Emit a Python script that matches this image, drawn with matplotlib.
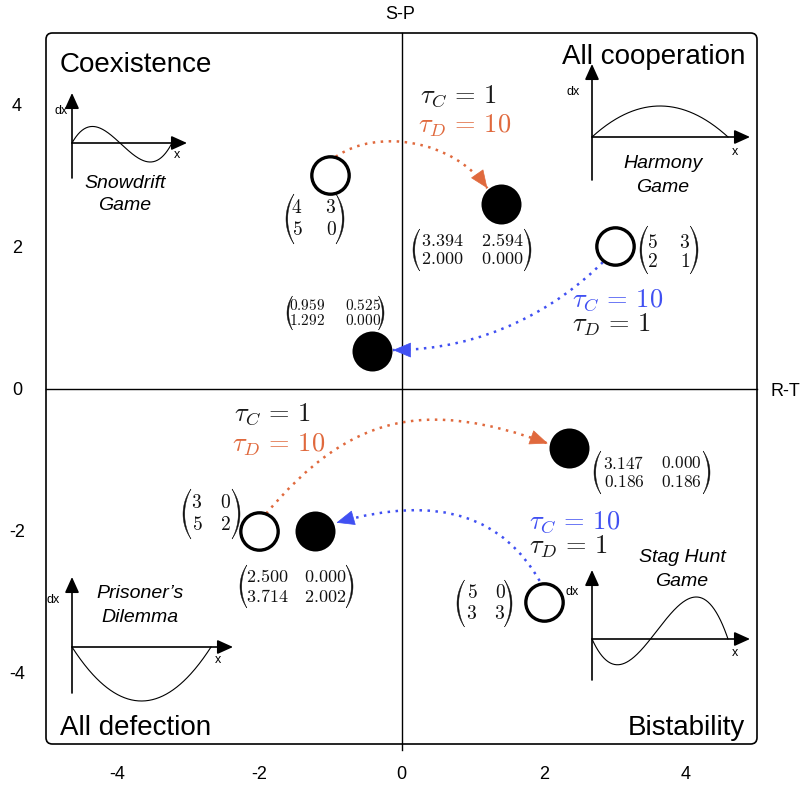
import numpy as np
import matplotlib
matplotlib.use("Agg")
import matplotlib.pyplot as plt
from matplotlib.patches import FancyArrowPatch, FancyBboxPatch, Polygon, PathPatch
from matplotlib.path import Path

plt.rcParams["font.family"] = ["Liberation Sans", "DejaVu Sans"]
plt.rcParams["mathtext.fontset"] = "cm"

# Original games, placed at (R-T, S-P)
orig_rt = [-1.0, 3.0, -2.0, 2.0]
orig_sp = [3.0, 2.0, -2.0, -3.0]
orig_payoff = [["4", "3", "5", "0"], ["5", "3", "2", "1"],
               ["3", "0", "5", "2"], ["5", "0", "3", "3"]]

# Effective games after the time-scale change
eff_rt = [1.394, -0.42, 2.35, -1.214]
eff_sp = [2.594, 0.525, -0.84, -2.002]
eff_payoff = [["3.394", "2.594", "2.000", "0.000"],
              ["0.959", "0.525", "1.292", "0.000"],
              ["3.147", "0.000", "0.186", "0.186"],
              ["2.500", "0.000", "3.714", "2.002"]]

tau_c = [1, 10, 1, 10]
tau_d = [10, 1, 10, 1]

tick_vals = [-4, -2, 0, 2, 4]
quadrant_names = ["Coexistence", "All cooperation", "All defection", "Bistability"]
game_names = [("Snowdrift", "Game"), ("Harmony", "Game"),
              ("Prisoner\u2019s", "Dilemma"), ("Stag Hunt", "Game")]

ORANGE = "#E0693D"
BLUE = "#4050F2"

W, H = 809, 788
fig = plt.figure(figsize=(W / 100, H / 100), dpi=100)
ax = fig.add_axes([46 / W, 44 / H, 711 / W, 711 / H])
ax.set_xlim(-5, 5)
ax.set_ylim(-5, 5)
for s in ax.spines.values():
    s.set_visible(False)
ax.set_xticks(tick_vals)
ax.set_yticks(tick_vals)
ax.set_xticklabels([str(v) for v in tick_vals])
ax.set_yticklabels([str(v) for v in tick_vals], ha="center")
ax.tick_params(length=0, labelsize=13)
ax.tick_params(axis="x", pad=16)
ax.tick_params(axis="y", pad=21)

# frame and the two payoff axes
ax.add_patch(FancyBboxPatch((-5, -5), 10, 10, boxstyle="round,pad=0,rounding_size=0.09",
                            fc="none", ec="black", lw=1.2, clip_on=False, zorder=1))
ax.plot([0, 0], [-5.08, 5], color="black", lw=1.0, clip_on=False, zorder=1)
ax.plot([-5, 5], [0, 0], color="black", lw=1.0, clip_on=False, zorder=1)

ax.plot(orig_rt, orig_sp, "o", ls="none", ms=26.9, mfc="white", mec="black", mew=2.4, zorder=4)
ax.plot(eff_rt, eff_sp, "o", ls="none", ms=28.8, mfc="black", mec="black", mew=0, zorder=4)


def unit(deg):
    a = np.deg2rad(deg)
    return np.array([np.cos(a), np.sin(a)])


# curved dotted arrows: start/end angle on each circle, tangent directions, handle lengths
arrow_geom = [
    (74, 0.27, 35, 0.70, 130, 0.29, -55, 0.84),
    (233, 0.28, 225, 0.90, 3, 0.30, 180, 1.30),
    (68, 0.26, 50, 1.83, 167, 0.30, -20, 1.83),
    (101, 0.30, 120, 1.00, 21, 0.32, 196, 1.55),
]
for i, (pa, ra, da, ha, pb, rb, db, hb) in enumerate(arrow_geom):
    p = np.array([orig_rt[i], orig_sp[i]])
    q = np.array([eff_rt[i], eff_sp[i]])
    P0 = p + ra * unit(pa)
    P3 = q + rb * unit(pb)
    P1 = P0 + ha * unit(da)
    P2 = P3 - hb * unit(db)
    col = ORANGE if tau_d[i] > tau_c[i] else BLUE
    path = Path([P0, P1, P2, P3], [Path.MOVETO, Path.CURVE4, Path.CURVE4, Path.CURVE4])
    ax.add_patch(PathPatch(path, fc="none", ec=col, lw=1.8,
                           linestyle=(0, (1, 2.2)), zorder=3))
    # solid head at the end of the curve
    ax.add_patch(FancyArrowPatch(P3 - 0.05 * unit(db), P3,
                                 arrowstyle="-|>,head_length=1.2,head_width=0.5",
                                 mutation_scale=10, fc=col, ec=col, lw=0.5,
                                 shrinkA=0, shrinkB=0, zorder=3))

# overlay in figure pixel units for annotations
deco = fig.add_axes([0, 0, 1, 1], zorder=5)
deco.set_xlim(0, W)
deco.set_ylim(H, 0)
deco.axis("off")
deco.set_facecolor("none")

deco.text(400, 14, "S-P", ha="center", va="center", fontsize=13)
deco.text(785, 391, "R-T", ha="center", va="center", fontsize=13)

deco.text(60, 72, quadrant_names[0], ha="left", va="baseline", fontsize=20)
deco.text(745, 64, quadrant_names[1], ha="right", va="baseline", fontsize=20)
deco.text(60, 735, quadrant_names[2], ha="left", va="baseline", fontsize=20)
deco.text(745, 735, quadrant_names[3], ha="right", va="baseline", fontsize=20)

# tau labels
tau_pos = [((420, 103), (418, 133)), ((572, 307), (572, 332)),
           ((234, 421), (232, 452)), ((529, 529), (529, 554))]
for i, ((xc, yc), (xd, yd)) in enumerate(tau_pos):
    cc = BLUE if tau_c[i] == 10 else "#1a1a1a"
    cd = ORANGE if tau_d[i] == 10 else "#1a1a1a"
    deco.text(xc, yc, r"$\tau_C\,=\,%d$" % tau_c[i], color=cc, fontsize=19, ha="left", va="baseline")
    deco.text(xd, yd, r"$\tau_D\,=\,%d$" % tau_d[i], color=cd, fontsize=19, ha="left", va="baseline")


def paren(x, y0, y1, side, thick=1.7):
    # side = -1 for "(", +1 for ")"; x is the outermost point
    h = (y1 - y0) / 2.0
    yc = (y0 + y1) / 2.0
    w = 0.16 * (y1 - y0)
    yy = np.linspace(y0, y1, 60)

    def arc(sag):
        R = (h ** 2 + sag ** 2) / (2 * sag)
        return R - np.sqrt(R ** 2 - (yy - yc) ** 2)

    off_o = arc(w)
    off_i = arc(w - thick) + thick
    xo = x - side * off_o
    xi = x - side * off_i
    pts = np.vstack([np.column_stack([xo, yy]), np.column_stack([xi[::-1], yy[::-1]])])
    deco.add_patch(Polygon(pts, closed=True, fc="#111111", ec="#111111", lw=0.3))


def pmatrix(entries, cols, rows, pars, vert, fs):
    k = 0
    for r in rows:
        for c in cols:
            deco.text(c, r, "$%s$" % entries[k], ha="center", va="center", fontsize=fs, color="#111111")
            k += 1
    paren(pars[0], vert[0], vert[1], -1)
    paren(pars[1], vert[0], vert[1], +1)


orig_layout = [
    ((297, 331), (208, 230), (286, 344), (194, 244), 14),
    ((652, 685), (243, 262), (640, 698), (226, 274), 14),
    ((197, 225), (503, 525), (183, 240), (489, 539), 14),
    ((472, 500), (593, 614), (457, 512), (580, 627), 14),
]
eff_layout = [
    ((442, 502), (241, 259), (413, 531), (229, 271), 13),
    ((307, 363), (305, 320), (287, 384), (296, 330), 11),
    ((624, 681), (463, 482), (594, 710), (451, 494), 12.5),
    ((267, 325), (577, 597), (240, 353), (565, 608), 13),
]
for i in range(4):
    pmatrix(orig_payoff[i], *orig_layout[i])
    pmatrix(eff_payoff[i], *eff_layout[i])

# small replicator-dynamics sketches: dx = x(1-x)(a + b x)
sketches = [
    # origin, x tip, y top, y bottom, curve end, (a, b), amplitude, dx pos, x pos, title pos
    ((72, 143), 187, 93, 178, 172, (0.48, -1.0), 19, (61, 111), (177, 155), (125, 183, 205)),
    ((592, 137), 750, 64, 180, 728, (1.0, 0.0), 31, (573, 92), (735, 152), (663, 163, 187)),
    ((72, 647), 233, 577, 693, 211, (-1.0, 0.0), 54, (53, 600), (218, 660), (140, 593, 618)),
    ((592, 639), 750, 570, 680, 728, (-0.43, 1.0), 42, (572, 592), (735, 653), (682, 558, 582)),
]
t = np.linspace(0, 1, 200)
for g, (org, xtip, ytop, ybot, xend, (a, b), amp, dxp, xp, tp) in enumerate(sketches):
    ox, oy = org
    arr = "-|>,head_length=0.95,head_width=0.43"
    deco.add_patch(FancyArrowPatch((ox, oy), (xtip, oy), arrowstyle=arr, mutation_scale=10,
                                   color="black", lw=1.2, shrinkA=0, shrinkB=0))
    deco.add_patch(FancyArrowPatch((ox, ybot), (ox, ytop), arrowstyle=arr, mutation_scale=10,
                                   color="black", lw=1.2, shrinkA=0, shrinkB=0))
    f = t * (1 - t) * (a + b * t)
    f = f / np.abs(f).max()
    deco.plot(ox + t * (xend - ox), oy - amp * f, color="black", lw=0.8)
    deco.text(dxp[0], dxp[1], "dx", ha="center", va="center", fontsize=9)
    deco.text(xp[0], xp[1], "x", ha="center", va="center", fontsize=9)
    deco.text(tp[0], tp[1], game_names[g][0], ha="center", va="center", fontsize=14, style="italic")
    deco.text(tp[0], tp[2], game_names[g][1], ha="center", va="center", fontsize=14, style="italic")

fig.savefig("out.png", dpi=100)
